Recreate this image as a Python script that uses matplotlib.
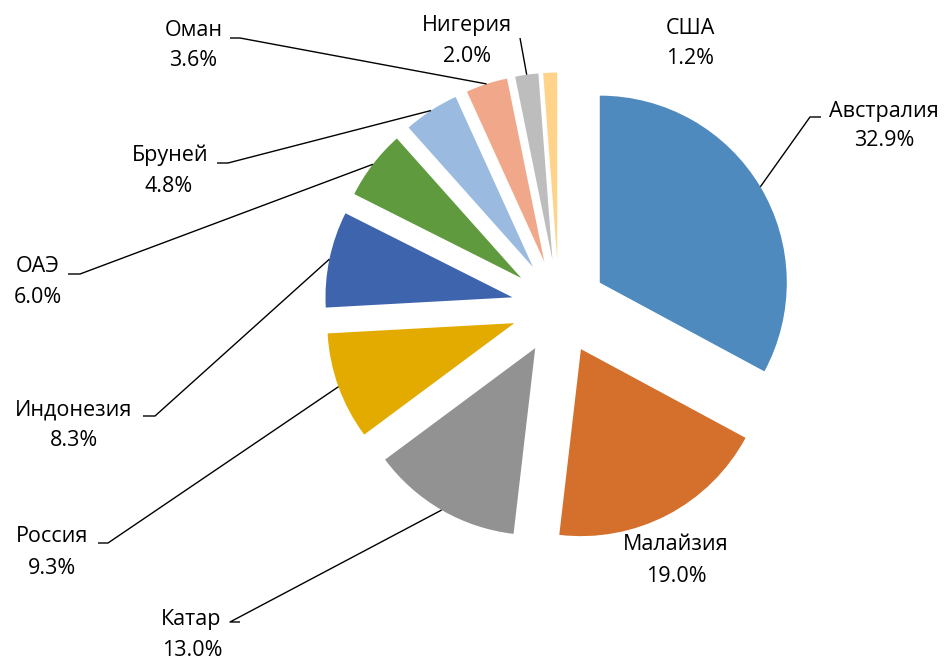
import numpy as np
import matplotlib
matplotlib.use("Agg")
import matplotlib.pyplot as plt

plt.rcParams['font.family'] = ['Open Sans', 'DejaVu Sans']

countries = ["Австралия", "Малайзия", "Катар", "Россия", "Индонезия",
             "ОАЭ", "Бруней", "Оман", "Нигерия", "США"]
shares = [32.9, 19.0, 13.0, 9.3, 8.3, 6.0, 4.8, 3.6, 2.0, 1.2]
colors = ["#4E8ABE", "#D46F2C", "#929292", "#E3AB00", "#3D64AD",
          "#5F9A3E", "#9ABAE0", "#F1A88A", "#BDBDBD", "#FFD38A"]

W, H = 945, 660
fig = plt.figure(figsize=(W / 100, H / 100), dpi=100)
ax = fig.add_axes([0, 0, 1, 1])

cx, cy = 559, H - 307
R = 187
EXP = 0.254

ax.pie(shares, startangle=90, counterclock=False, colors=colors,
       explode=[EXP * R] * len(shares), center=(cx, cy), radius=R,
       wedgeprops=dict(linewidth=0), frame=False)
ax.set_xlim(0, W)
ax.set_ylim(0, H)
ax.set_aspect('equal')
ax.axis('off')

# label layout (pixel coords from top-left): name pos, pct pos, leader stub
layout = {
    "Австралия": ((884, 111), (884, 141), [(821, 117), (810, 117)]),
    "Малайзия": ((676, 545), (676, 576), None),
    "Катар": ((191, 620), (192, 651), [(240, 622), (230, 622)]),
    "Россия": ((52, 537), (52, 568), [(98, 543), (108, 543)]),
    "Индонезия": ((74, 410), (74, 440), [(143, 416), (155, 416)]),
    "ОАЭ": ((38, 267), (38, 298), [(68, 274), (80, 274)]),
    "Бруней": ((170, 155), (169, 187), [(217, 163), (228, 163)]),
    "Оман": ((194, 30), (193, 61), [(230, 38), (240, 38)]),
    "Нигерия": ((467, 25), (467, 57), [(520, 38)]),
    "США": ((690, 28), (690, 59), None),
}

total = sum(shares)
cum = 0.0
fs = 15.5
for name, v in zip(countries, shares):
    mid = (cum + v / 2) / total * 360.0
    cum += v
    ang = np.deg2rad(mid)
    ex = cx + (R * (1 + EXP)) * np.sin(ang)
    ey = cy + (R * (1 + EXP)) * np.cos(ang)
    (nx, ny), (px, py), stub = layout[name]
    ax.text(nx, H - ny, name, ha='center', va='center', fontsize=fs, color='#000000')
    ax.text(px, H - py, f"{v:.1f}%", ha='center', va='center', fontsize=fs, color='#000000')
    if stub:
        xs = [p[0] for p in stub] + [ex]
        ys = [H - p[1] for p in stub] + [ey]
        ax.plot(xs, ys, color='black', linewidth=1.0, solid_capstyle='butt')

fig.savefig("out.png", dpi=100)
